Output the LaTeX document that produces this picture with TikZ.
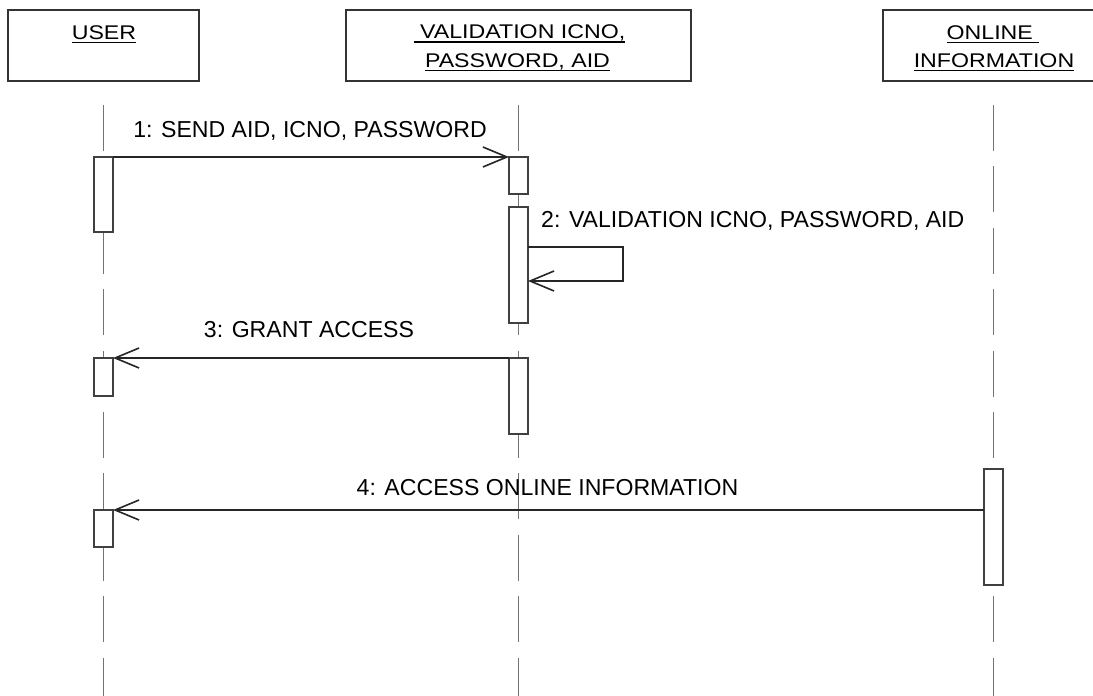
\documentclass[tikz,border=0pt]{standalone}
\usepackage{fontspec}
\setmainfont{Liberation Sans}
\newfontfamily\boxfont[FakeStretch=1.17]{Liberation Sans}
\usetikzlibrary{arrows.meta}
\newcommand\myul[1]{\setbox0=\hbox{#1}\rlap{\rule[-4.2pt]{\wd0}{1.5pt}}\box0}
\begin{document}
\begin{tikzpicture}[x=1pt,y=-1pt,
  objbox/.style={draw=black!80, line width=1.2pt, minimum height=71pt, inner sep=0, outer sep=0},
  objtext/.style={font=\boxfont\fontsize{19.8}{24}\selectfont, inner sep=0, anchor=base},
  act/.style={draw=black!75, fill=white, line width=1.3pt, minimum width=19pt, inner sep=0, outer sep=0},
  life/.style={draw=black!55, line width=1.3pt, dash pattern=on 46pt off 15.4pt},
  msg/.style={draw=black!85, line width=1.3pt, -{Straight Barb[length=24pt,width=20pt,line width=1.6pt]}},
  msgtext/.style={font=\fontsize{23.1}{28}\selectfont, inner sep=0, anchor=base}]
\useasboundingbox (0,0) rectangle (1093,696);
\clip (0,0) rectangle (1093,696);

% object boxes
\node[objbox, minimum width=191pt] (user) at (103.5,45.5) {};
\node[objbox, minimum width=345pt] (valid) at (518.5,45.5) {};
\node[objbox, minimum width=220pt] (online) at (993,45.5) {};

\node[objtext] (usertxt) at (104,39) {\myul{USER}};
\node[objtext] (validtxt1) at (519.5,38.5) {\myul{\ VALIDATION ICNO,}};
\node[objtext] (validtxt2) at (517.5,67) {\myul{PASSWORD, AID}};
\node[objtext] (onlinetxt1) at (993,39) {\myul{ONLINE\ }};
\node[objtext] (onlinetxt2) at (994,67) {\myul{INFORMATION}};

% lifelines
\coordinate (uTop) at (103.5,105);
\coordinate (uBot) at (103.5,700);
\coordinate (vTop) at (518.5,105);
\coordinate (vBot) at (518.5,700);
\coordinate (oTop) at (993.5,105);
\coordinate (oBot) at (993.5,700);
\draw[life] (uTop) -- (uBot);
\draw[life] (vTop) -- (vBot);
\draw[life] (oTop) -- (oBot);

% activations
\node[act, minimum height=75pt] (ua1) at (103.5,194.5) {};
\node[act, minimum height=37pt] (va1) at (518.5,175.5) {};
\node[act, minimum height=116pt] (va2) at (518.5,265) {};
\node[act, minimum height=38pt] (ua2) at (103.5,377) {};
\node[act, minimum height=76pt] (va3) at (518.5,396) {};
\node[act, minimum height=116pt] (oa) at (993.5,527) {};
\node[act, minimum height=37pt] (ua3) at (103.5,528.5) {};

% messages
\draw[msg] (ua1.north east) -- (va1.north west);
\node[msgtext] (m1) at (310,137) {1: SEND AID, ICNO, PASSWORD};

\coordinate (s1) at (623,247);
\coordinate (s2) at (623,281);
\draw[msg] (va2.east |- s1) -- (s1) -- (s2) -- (va2.east |- s2);
\node[msgtext, anchor=base west] (m2) at (541,227) {2: VALIDATION ICNO, PASSWORD, AID};

\draw[msg] (va3.north west) -- (ua2.north east);
\node[msgtext] (m3) at (309,337) {3: GRANT ACCESS};

\draw[msg] (oa.west |- ua3.north) -- (ua3.north east);
\node[msgtext] (m4) at (547.5,495) {4: ACCESS ONLINE INFORMATION};
\end{tikzpicture}
\end{document}
